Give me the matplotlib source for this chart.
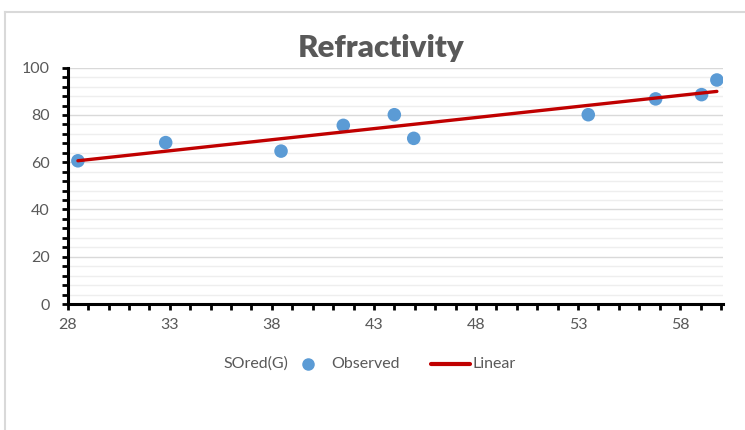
import matplotlib
matplotlib.use("Agg")
import matplotlib.pyplot as plt
from matplotlib.lines import Line2D
from matplotlib.ticker import MultipleLocator, FixedLocator
import numpy as np

# observed points
SO_RED = [28.5, 32.8, 38.45, 41.5, 44.0, 44.95, 53.5, 56.8, 59.05, 59.8]
REFRACT = [60.6, 68.3, 64.7, 75.6, 80.1, 70.1, 80.1, 86.8, 88.6, 94.8]
X_TICKS = [28, 33, 38, 43, 48, 53, 58]

TITLE = 'Refractivity'
BLUE = '#5b9bd5'
RED = '#c00000'
GREY = '#595959'

plt.rcParams['font.family'] = ['Lato', 'DejaVu Sans']

W, H = 745, 430
fig = plt.figure(figsize=(W / 100, H / 100), dpi=100, facecolor='white')

# chart area border (only top and left visible)
fig.add_artist(Line2D([5 / W, 5 / W], [0, 1 - 12 / H], color='#d9d9d9', lw=1.5,
                      transform=fig.transFigure))
fig.add_artist(Line2D([5 / W, 1], [1 - 12 / H, 1 - 12 / H], color='#d9d9d9', lw=1.5,
                      transform=fig.transFigure))

ax = fig.add_axes([67.7 / W, 1 - 304 / H, (723 - 67.7) / W, (304 - 67.7) / H])

x = np.array(SO_RED)
y = np.array(REFRACT)
slope, icpt = np.polyfit(x, y, 1)
xf = np.array([x.min(), x.max()])

ax.scatter(x, y, s=95, color=BLUE, zorder=3, edgecolors='none')
ax.plot(xf, slope * xf + icpt, color=RED, lw=2.4, zorder=4, solid_capstyle='round')

ax.set_xlim(28, 60.1)
ax.set_ylim(0, 100)
ax.xaxis.set_major_locator(FixedLocator(X_TICKS))
ax.xaxis.set_minor_locator(MultipleLocator(1))
ax.yaxis.set_major_locator(MultipleLocator(20))
ax.yaxis.set_minor_locator(MultipleLocator(4))

ax.grid(True, which='major', axis='y', color='#d9d9d9', lw=1.0, zorder=0)
ax.grid(True, which='minor', axis='y', color='#eeeeee', lw=1.0, zorder=0)
ax.set_axisbelow(True)

for side in ['top', 'right']:
    ax.spines[side].set_visible(False)
for side in ['left', 'bottom']:
    ax.spines[side].set_linewidth(2.2)
    ax.spines[side].set_color('black')

ax.tick_params(which='both', direction='out', length=4, width=2, color='black')
ax.tick_params(which='major', labelsize=11.5, labelcolor=GREY, pad=6)
ax.tick_params(axis='y', which='major', pad=9)

fig.text(381 / W, 1 - 48 / H, TITLE, ha='center', va='center', fontsize=22.5,
         fontweight='heavy', color=GREY)

# legend row
ly = 1 - 364 / H
fs = 11.5
fig.text(223 / W, ly, 'SOred(G)', ha='left', va='center', fontsize=fs, color=GREY)
fig.add_artist(Line2D([308 / W], [ly], marker='o', ms=8, color=BLUE, ls='none',
                      transform=fig.transFigure))
fig.text(331 / W, ly, 'Observed', ha='left', va='center', fontsize=fs, color=GREY)
fig.add_artist(Line2D([431 / W, 470 / W], [ly, ly], color=RED, lw=3,
                      solid_capstyle='round', transform=fig.transFigure))
fig.text(472 / W, ly, 'Linear', ha='left', va='center', fontsize=fs, color=GREY)

fig.savefig('out.png', dpi=100, facecolor='white')
